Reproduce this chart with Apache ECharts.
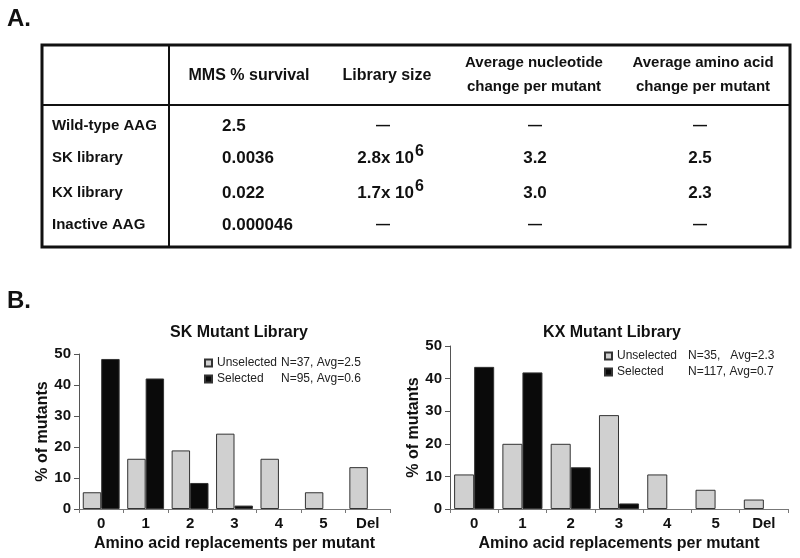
<!DOCTYPE html>
<html style="height: 100%">
<head>
    <meta charset="utf-8">
    <script src="https://cdn.jsdelivr.net/npm/echarts@6/dist/echarts.min.js"></script>
    <title>AAG mutant libraries</title>
</head>
<body style="height: 100%; margin: 0; background: #fff">
<div id="container" style="width: 800px; height: 558px"></div>
<script type="text/javascript">

    // panel A table
    let tableHeaders = ['MMS % survival', 'Library size', 'Average nucleotide\nchange per mutant', 'Average amino acid\nchange per mutant']
    let rowLabels = ['Wild-type AAG', 'SK library', 'KX library', 'Inactive AAG']
    let mmsSurvival = ['2.5', '0.0036', '0.022', '0.000046']
    let librarySize = ['—', '2.8x 10^6', '1.7x 10^6', '—']
    let nucleotideChange = ['—', '3.2', '3.0', '—']
    let aminoAcidChange = ['—', '2.5', '2.3', '—']

    // panel B histograms
    let categories = ['0', '1', '2', '3', '4', '5', 'Del']
    let skUnselected = [5.4, 16.2, 18.9, 24.3, 16.2, 5.4, 13.5]
    let skSelected = [48.4, 42.1, 8.4, 1.1, 0, 0, 0]
    let kxUnselected = [10.6, 20, 20, 28.8, 10.6, 5.9, 2.9]
    let kxSelected = [43.6, 41.9, 12.8, 1.7, 0, 0, 0]
    let skStats = {'Unselected': 'N=37, Avg=2.5', 'Selected': 'N=95, Avg=0.6'}
    let kxStats = {'Unselected': 'N=35,   Avg=2.3', 'Selected': 'N=117, Avg=0.7'}

    let FONT = '"Liberation Sans", Arial, sans-serif'
    let INK = '#111'

    // table layout (pixels)
    let tb = {x: 42, y: 45, w: 748, h: 202, split: 169, headY: 105}
    let colX = [222, 383, 535, 700]
    let headX = [249, 387, 534, 703]
    let rowY = [126, 158, 193, 225]

    function txt(x, y, text, opts) {
        opts = opts || {}
        return {
            type: 'text', x: x, y: y,
            style: Object.assign({
                text: text, fill: INK, font: 'bold 17px ' + FONT,
                align: 'left', verticalAlign: 'middle'
            }, opts)
        }
    }

    let graphics = [
        txt(7, 19, 'A.', {font: 'bold 24px ' + FONT}),
        txt(7, 301, 'B.', {font: 'bold 24px ' + FONT}),
        {type: 'rect', shape: {x: tb.x, y: tb.y, width: tb.w, height: tb.h},
            style: {fill: 'none', stroke: INK, lineWidth: 3}},
        {type: 'line', shape: {x1: tb.split, y1: tb.y, x2: tb.split, y2: tb.y + tb.h},
            style: {stroke: INK, lineWidth: 2}},
        {type: 'line', shape: {x1: tb.x, y1: tb.headY, x2: tb.x + tb.w, y2: tb.headY},
            style: {stroke: INK, lineWidth: 2}}
    ]

    tableHeaders.forEach(function (h, i) {
        let twoLine = h.indexOf('\n') >= 0
        graphics.push(txt(headX[i], twoLine ? 75 : 76, h, {
            align: 'center',
            font: twoLine ? 'bold 15px ' + FONT : 'bold 16px ' + FONT,
            lineHeight: 24
        }))
    })

    rowLabels.forEach(function (lab, r) {
        let y = rowY[r]
        graphics.push(txt(52, y, lab, {font: 'bold 15px ' + FONT}))
        graphics.push(txt(colX[0], y, mmsSurvival[r]))

        let size = librarySize[r]
        if (size === '—') {
            graphics.push(txt(colX[1], y, size, {align: 'center', font: 'bold 14px ' + FONT}))
        } else {
            // base and exponent drawn as two texts so the exponent sits raised
            let parts = size.split('^')
            graphics.push(txt(colX[1] + 31, y, parts[0], {align: 'right'}))
            graphics.push(txt(colX[1] + 32, y - 6, parts[1], {align: 'left', font: 'bold 16px ' + FONT}))
        }

        ;[nucleotideChange[r], aminoAcidChange[r]].forEach(function (v, k) {
            let dash = v === '—'
            graphics.push(txt(colX[2 + k], y, v, {
                align: 'center',
                font: (dash ? 'bold 14px ' : 'bold 17px ') + FONT
            }))
        })
    })

    function legendFor(left, top, stats, nameWidth) {
        return {
            left: left, top: top, orient: 'vertical',
            itemWidth: 7, itemHeight: 7, itemGap: 4,
            icon: 'rect',
            data: ['Unselected', 'Selected'],
            formatter: function (name) {
                return '{n|' + name + '}{s|' + stats[name] + '}'
            },
            textStyle: {
                fontFamily: FONT, fontSize: 12, color: '#222',
                rich: {
                    n: {width: nameWidth, fontFamily: FONT, fontSize: 12, color: '#222'},
                    s: {fontFamily: FONT, fontSize: 12, color: '#222'}
                }
            }
        }
    }

    function xAxisFor(idx) {
        return {
            type: 'category', gridIndex: idx, data: categories,
            name: 'Amino acid replacements per mutant',
            nameLocation: 'middle', nameGap: 27,
            nameTextStyle: {fontFamily: FONT, fontWeight: 'bold', fontSize: 16, color: INK},
            axisLine: {lineStyle: {color: '#777', width: 1}},
            axisTick: {show: true, interval: 0, length: 4, lineStyle: {color: '#777'}},
            axisLabel: {fontFamily: FONT, fontWeight: 'bold', fontSize: 15, color: INK, margin: 7, interval: 0}
        }
    }

    function yAxisFor(idx) {
        return {
            type: 'value', gridIndex: idx, min: 0, max: 50, interval: 10,
            name: '% of mutants', nameLocation: 'middle', nameGap: 27,
            nameTextStyle: {fontFamily: FONT, fontWeight: 'bold', fontSize: 16, color: INK},
            axisLine: {show: true, lineStyle: {color: '#555', width: 1}},
            axisTick: {show: true, length: 5, lineStyle: {color: '#555'}},
            splitLine: {show: false},
            axisLabel: {fontFamily: FONT, fontWeight: 'bold', fontSize: 15, color: INK, margin: 8}
        }
    }

    function barSeries(name, idx, values, color) {
        return {
            name: name, type: 'bar', xAxisIndex: idx, yAxisIndex: idx,
            // empty bins get no bar (a zero-height bar would leave its border on the axis)
            data: values.map(function (v) { return v === 0 ? null : v }),
            barGap: 0, barCategoryGap: '17%',
            itemStyle: {color: color, borderColor: '#333', borderWidth: 1},
            emphasis: {disabled: true}
        }
    }

    let dom = document.getElementById('container')
    let chart = echarts.init(dom, null, {renderer: 'canvas'})
    chart.setOption({
        animation: false,
        backgroundColor: '#fff',
        title: [
            {text: 'SK Mutant Library', left: 234, top: 320, textAlign: 'center',
                textStyle: {fontFamily: FONT, fontWeight: 'bold', fontSize: 16, color: INK}},
            {text: 'KX Mutant Library', left: 607, top: 320, textAlign: 'center',
                textStyle: {fontFamily: FONT, fontWeight: 'bold', fontSize: 16, color: INK}}
        ],
        legend: [
            legendFor(199, 352, skStats, 64),
            legendFor(599, 345, kxStats, 71)
        ],
        grid: [
            {left: 79, right: 410, top: 354, bottom: 49},
            {left: 450, right: 12, top: 346, bottom: 49}
        ],
        xAxis: [xAxisFor(0), xAxisFor(1)],
        yAxis: [yAxisFor(0), yAxisFor(1)],
        series: [
            barSeries('Unselected', 0, skUnselected, '#d0d0d0'),
            barSeries('Selected', 0, skSelected, '#0a0a0a'),
            barSeries('Unselected', 1, kxUnselected, '#d0d0d0'),
            barSeries('Selected', 1, kxSelected, '#0a0a0a')
        ],
        graphic: graphics
    })

</script>
</body>
</html>
